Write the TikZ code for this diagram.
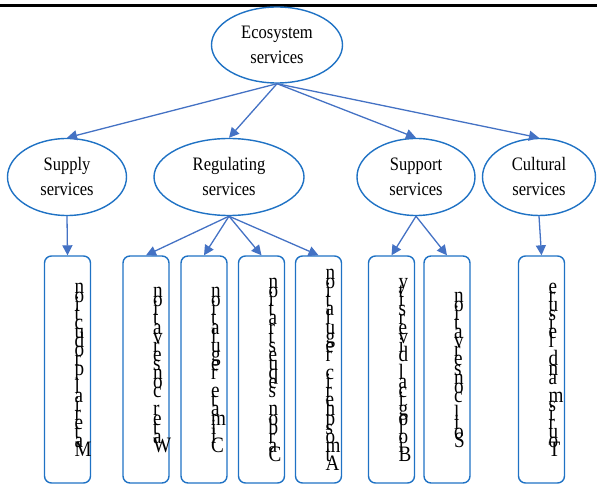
\documentclass[tikz,border=0pt]{standalone}
\usepackage{fontspec}
\setmainfont{Liberation Serif}
\newfontfamily\narrowfont[FakeStretch=0.87]{Liberation Serif}
\usetikzlibrary{shapes.geometric,arrows.meta}

\definecolor{ellblue}{RGB}{31,114,196}
\definecolor{arrblue}{RGB}{68,114,196}

% letters stacked from the top, one below the other
\newcommand\vword[2]{%
  \xdef\nlet{0}%
  \foreach \vl [count=\k] in {#2} {\xdef\nlet{\k}}%
  \foreach \vl [count=\k] in {#2}
    \node[letter] at ([xshift=7pt,yshift={-5.5pt-(\k-(\nlet+1)/2)*9.1pt}]#1.center) {\vl};%
}

\begin{document}
\begin{tikzpicture}[x=1pt,y=-1pt,
    ell/.style={ellipse,draw=ellblue,line width=1.4pt,inner sep=0pt,align=center,
      font=\narrowfont\fontsize{19}{25}\selectfont},
    box/.style={draw=ellblue,line width=1.4pt,rounded corners=7pt,
      minimum width=46pt,minimum height=227pt,inner sep=0pt},
    arr/.style={arrblue,line width=1.3pt,-{Triangle[length=10pt,width=10pt]}},
    letter/.style={anchor=base west,inner sep=0pt,font=\narrowfont\fontsize{22}{22}\selectfont}]
  \useasboundingbox (0,0) rectangle (597,486);
  \draw[line width=2.8pt] (0,5.3) -- (597,5.3);

  \node[ell,minimum width=131pt,minimum height=76pt] (eco) at (277,45) {Ecosystem\\services};
  \node[ell,minimum width=119pt,minimum height=77pt] (sup) at ( 67,177) {Supply\\services};
  \node[ell,minimum width=150pt,minimum height=77pt] (reg) at (229,177) {Regulating\\services};
  \node[ell,minimum width=118pt,minimum height=77pt] (spt) at (416,177) {Support\\services};
  \node[ell,minimum width=113pt,minimum height=77pt] (cul) at (539,177) {Cultural\\services};

  \node[box] (b1) at ( 67.5,369.5) {};
  \node[box] (b2) at (146  ,369.5) {};
  \node[box] (b3) at (204  ,369.5) {};
  \node[box] (b4) at (261.5,369.5) {};
  \node[box] (b5) at (318.5,369.5) {};
  \node[box] (b6) at (391.5,369.5) {};
  \node[box] (b7) at (447  ,369.5) {};
  \node[box] (b8) at (541.5,369.5) {};

  \foreach \t in {sup,reg,spt,cul}
    \draw[arr] (eco.south) -- (\t.north);
  \draw[arr] (sup.south) -- (b1.north);
  \foreach \t in {b2,b3,b4,b5}
    \draw[arr] (reg.south) -- (\t.north);
  \foreach \t in {b6,b7}
    \draw[arr] (spt.south) -- (\t.north);
  \draw[arr] (cul.south) -- (b8.north);

  \vword{b1}{n,o,i,t,c,u,d,o,r,p,~,l,a,i,r,e,t,a,M}
  \vword{b2}{n,o,i,t,a,v,r,e,s,n,o,c,~,r,e,t,a,W}
  \vword{b3}{n,o,i,t,a,l,u,g,e,r,~,e,t,a,m,i,l,C}
  \vword{b4}{n,o,i,t,a,r,t,s,e,u,q,e,s,~,n,o,b,r,a,C}
  \vword{b5}{n,o,i,t,a,l,u,g,e,r,~,c,i,r,e,h,p,s,o,m,t,A}
  \vword{b6}{y,t,i,s,r,e,v,i,d,~,l,a,c,i,g,o,l,o,i,B}
  \vword{b7}{n,o,i,t,a,v,r,e,s,n,o,c,~,l,i,o,S}
  \vword{b8}{e,r,u,s,i,e,l,~,d,n,a,~,m,s,i,r,u,o,T}
\end{tikzpicture}
\end{document}
